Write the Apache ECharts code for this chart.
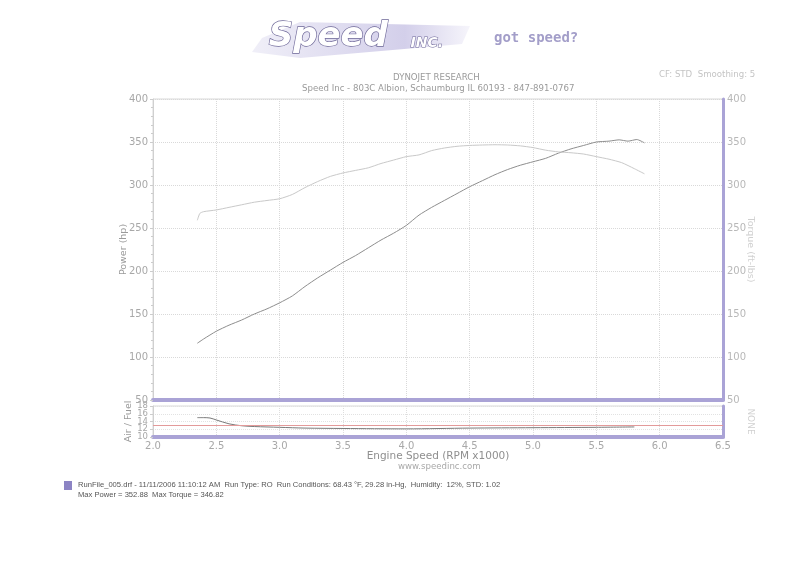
<!DOCTYPE html>
<html><head><meta charset="utf-8">
<script src="https://cdn.jsdelivr.net/npm/echarts@6/dist/echarts.min.js"></script>
<style>html,body{margin:0;padding:0;background:#fff}#c{width:800px;height:582px}</style>
</head><body><div id="c"></div>
<script>
// ---- data ----
const rpmTicks = [2.0, 2.5, 3.0, 3.5, 4.0, 4.5, 5.0, 5.5, 6.0, 6.5];
const afrTicks = ['10', '12', '14', '16', '18'];
const powerRpm = [2.35,2.40,2.50,2.60,2.70,2.80,2.90,3.00,3.10,3.20,3.30,3.40,3.50,3.60,3.70,3.80,3.90,4.00,4.10,4.20,4.30,4.40,4.50,4.60,4.70,4.80,4.90,5.00,5.10,5.20,5.30,5.40,5.50,5.60,5.68,5.75,5.82,5.88];
const powerHp  = [116,121,130,137,143,150,156,163,171,182,192,201,210,218,227,236,244,253,265,274,282,290,298,305,312,318,323,327,331,337,342,346,350,351,352.5,351,352.88,349];
const torqueRpm = [2.35,2.37,2.40,2.50,2.60,2.70,2.80,2.90,3.00,3.10,3.20,3.30,3.40,3.50,3.60,3.70,3.80,3.90,4.00,4.10,4.20,4.30,4.40,4.50,4.60,4.70,4.80,4.90,5.00,5.10,5.20,5.30,5.40,5.50,5.60,5.70,5.80,5.88];
const torqueFtLb = [259,267,269,271,274,277,280,282,284,289,297,304,310,314,317,320,325,329,333,335,340,343,345,346,346.5,346.82,346.5,345.5,343.5,340.5,338.5,337.5,336,333,330,326,319,313];
const afrRpm = [2.35,2.40,2.45,2.50,2.60,2.70,2.80,3.00,3.20,3.50,4.00,4.50,5.00,5.50,5.80];
const afrVal = [15.0,15.0,14.9,14.4,13.4,12.9,12.7,12.5,12.3,12.2,12.1,12.3,12.4,12.5,12.6];
const afrRef = 13;

const pair = (xs, ys) => xs.map((x, i) => [x, ys[i]]);
const lab = '#a8a8a8';
const purple = '#aaa3d6';
const fontFam = '"DejaVu Sans", sans-serif';

const chart = echarts.init(document.getElementById('c'));
chart.setOption({
  animation: false,
  backgroundColor: '#fff',
  graphic: [
    // logo
    { type: 'polygon', shape: { points: [[262,38],[300,22],[470,26],[462,44],[300,58],[252,52]] },
      style: { fill: new echarts.graphic.LinearGradient(0,0,1,0,[{offset:0,color:'#f0eff8'},{offset:0.7,color:'#d3cfea'},{offset:1,color:'#f6f5fb'}]) } },
    { type: 'text', left: 268, top: 20, style: { text: 'Speed', font: 'italic bold 34px "DejaVu Sans", sans-serif', fill: '#ffffff', stroke: '#6e6898', lineWidth: 1.3 } },
    { type: 'text', left: 410, top: 36, style: { text: 'INC.', font: 'italic bold 14px "DejaVu Sans", sans-serif', fill: '#ffffff', stroke: '#6e6898', lineWidth: 1 } },
    { type: 'text', left: 494, top: 31, style: { text: 'got speed?', font: 'bold 14px "DejaVu Sans Mono", monospace', fill: '#a39ec9' } },
    // headings
    { type: 'text', left: 393, top: 73, style: { text: 'DYNOJET RESEARCH', font: '8.6px ' + fontFam, fill: '#9a9a9a' } },
    { type: 'text', left: 302, top: 84, style: { text: 'Speed Inc - 803C Albion, Schaumburg IL 60193 - 847-891-0767', font: '8.6px ' + fontFam, fill: '#9a9a9a' } },
    { type: 'text', left: 659, top: 70, style: { text: 'CF: STD  Smoothing: 5', font: '8.6px ' + fontFam, fill: '#c4c4c4' } },
    { type: 'text', left: 398, top: 462, style: { text: 'www.speedinc.com', font: '8.6px ' + fontFam, fill: '#a8a8a8' } },
    // footer
    { type: 'rect', shape: { x: 64, y: 481, width: 8, height: 9 }, style: { fill: '#8c84c4' } },
    { type: 'text', left: 78, top: 481, style: { text: 'RunFile_005.drf - 11/11/2006 11:10:12 AM  Run Type: RO  Run Conditions: 68.43 °F, 29.28 in-Hg,  Humidity:  12%, STD: 1.02', font: '7.6px "Liberation Sans", Arial, sans-serif', fill: '#555' } },
    { type: 'text', left: 78, top: 491, style: { text: 'Max Power = 352.88  Max Torque = 346.82', font: '7.6px "Liberation Sans", Arial, sans-serif', fill: '#555' } }
  ],
  grid: [
    { left: 153, right: 77, top: 99, height: 301, show: true, borderColor: '#d8d8d8', borderWidth: 1 },
    { left: 153, right: 77, top: 406, height: 31, show: true, borderColor: '#d8d8d8', borderWidth: 1 }
  ],
  xAxis: [
    { type: 'value', gridIndex: 0, min: 2, max: 6.5, interval: 0.5,
      axisLine: { lineStyle: { color: purple, width: 4 } }, axisTick: { show: false }, axisLabel: { show: false },
      splitLine: { lineStyle: { color: '#d9d9d9', type: 'dotted' } } },
    { type: 'value', gridIndex: 1, min: 2, max: 6.5, interval: 0.5,
      axisLine: { lineStyle: { color: purple, width: 4 } }, axisTick: { show: false },
      axisLabel: { color: lab, fontSize: 10, fontFamily: fontFam, margin: 4, formatter: v => v.toFixed(1) },
      splitLine: { lineStyle: { color: '#dedede', type: 'dotted' } },
      name: 'Engine Speed (RPM x1000)', nameLocation: 'middle', nameGap: 14, nameMoveOverlap: false,
      nameTextStyle: { color: '#8f8f8f', fontSize: 10.5, fontFamily: fontFam } }
  ],
  yAxis: [
    { type: 'value', gridIndex: 0, min: 50, max: 400, interval: 50, position: 'left',
      axisLine: { show: true, lineStyle: { color: '#d0d0d0' } },
      axisTick: { show: true, length: 3, lineStyle: { color: '#ccc' } },
      minorTick: { show: true, splitNumber: 5, length: 2, lineStyle: { color: '#ccc' } },
      axisLabel: { color: lab, fontSize: 10, fontFamily: fontFam, margin: 5 },
      splitLine: { lineStyle: { color: '#d9d9d9', type: 'dotted' } },
      name: 'Power (hp)', nameLocation: 'middle', nameGap: 24, nameMoveOverlap: false,
      nameTextStyle: { color: '#9a9a9a', fontSize: 9.5, fontFamily: fontFam } },
    { type: 'value', gridIndex: 0, min: 50, max: 400, interval: 50, position: 'right',
      axisLine: { show: true, lineStyle: { color: purple, width: 3 } },
      axisTick: { show: false },
      axisLabel: { color: '#b8b8b8', fontSize: 10, fontFamily: fontFam, margin: 4 },
      splitLine: { show: false },
      name: 'Torque (ft-lbs)', nameLocation: 'middle', nameGap: 22, nameRotate: -90, nameMoveOverlap: false,
      nameTextStyle: { color: '#d0d0d0', fontSize: 9.5, fontFamily: fontFam } },
    { type: 'value', gridIndex: 1, min: 10, max: 18, interval: 2, position: 'left',
      axisLine: { show: true, lineStyle: { color: '#d0d0d0' } },
      axisTick: { show: true, length: 3, lineStyle: { color: '#ccc' } },
      axisLabel: { show: false },
      splitLine: { lineStyle: { color: '#e2e2e2', type: 'dotted' } },
      name: 'Air / Fuel', nameLocation: 'middle', nameGap: 19, nameMoveOverlap: false,
      nameTextStyle: { color: '#9a9a9a', fontSize: 9.5, fontFamily: fontFam } },
    { type: 'value', gridIndex: 1, min: 10, max: 18, interval: 2, position: 'right',
      axisLine: { show: true, lineStyle: { color: purple, width: 3 } },
      axisTick: { show: false }, axisLabel: { show: false }, splitLine: { show: false },
      name: 'NONE', nameLocation: 'middle', nameGap: 23, nameRotate: -90, nameMoveOverlap: false,
      nameTextStyle: { color: '#d0d0d0', fontSize: 9, fontFamily: fontFam } },
    { type: 'category', gridIndex: 1, position: 'left', data: afrTicks, boundaryGap: false,
      axisLine: { show: false }, axisTick: { show: false }, splitLine: { show: false },
      axisLabel: { color: lab, fontSize: 8.5, fontFamily: fontFam, margin: 5, interval: 0, hideOverlap: false } }
  ],
  series: [
    { name: 'Power', type: 'line', xAxisIndex: 0, yAxisIndex: 0, data: pair(powerRpm, powerHp),
      showSymbol: false, smooth: 0.2, lineStyle: { color: '#8e8e8e', width: 1 } },
    { name: 'Torque', type: 'line', xAxisIndex: 0, yAxisIndex: 1, data: pair(torqueRpm, torqueFtLb),
      showSymbol: false, smooth: 0.2, lineStyle: { color: '#c9c9c9', width: 1 } },
    { name: 'Air/Fuel', type: 'line', xAxisIndex: 1, yAxisIndex: 2, data: pair(afrRpm, afrVal),
      showSymbol: false, smooth: 0.3, lineStyle: { color: '#7a7a7a', width: 1 },
      markLine: { silent: true, symbol: 'none', label: { show: false },
        lineStyle: { color: '#e39a9a', type: 'solid', width: 1 }, data: [{ yAxis: afrRef }] } }
  ]
});
</script></body></html>
